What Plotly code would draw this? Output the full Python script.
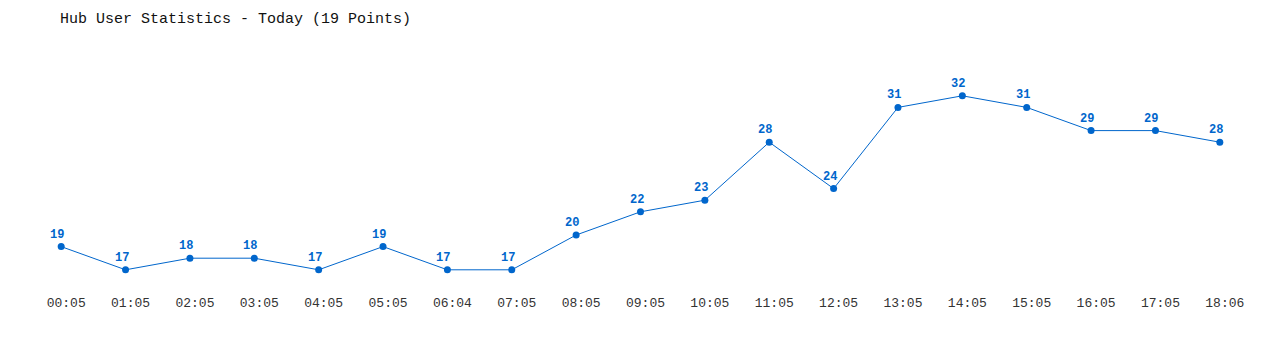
import plotly.graph_objects as go

times = ["00:05", "01:05", "02:05", "03:05", "04:05", "05:05", "06:04", "07:05", "08:05",
         "09:05", "10:05", "11:05", "12:05", "13:05", "14:05", "15:05", "16:05", "17:05", "18:06"]
users = [19, 17, 18, 18, 17, 19, 17, 17, 20, 22, 23, 28, 24, 31, 32, 31, 29, 29, 28]

MONO = "Liberation Mono, DejaVu Sans Mono, monospace"

fig = go.Figure()
fig.add_trace(go.Scatter(
    x=times, y=users, mode="lines+markers",
    line=dict(color="#0066cc", width=1),
    marker=dict(color="#0066cc", size=7),
    cliponaxis=False, hoverinfo="x+y",
))
for t, v in zip(times, users):
    fig.add_annotation(x=t, y=v, text=str(v), showarrow=False,
                       xanchor="center", yanchor="middle", xshift=-4, yshift=12,
                       font=dict(family=MONO, size=12, color="#0066cc", weight="bold"))
fig.update_layout(
    width=1280, height=350,
    margin=dict(l=29, r=28, t=61, b=57),
    paper_bgcolor="white", plot_bgcolor="white",
    showlegend=False,
    title=dict(text="Hub User Statistics - Today (19 Points)", x=60/1280, xanchor="left",
               y=1-18/350, yanchor="middle",
               font=dict(family=MONO, size=15, color="#111")),
    xaxis=dict(type="category", range=[-0.5, 18.5], showgrid=False, zeroline=False, showline=False,
               ticks="", ticklabelshift=5,
               tickfont=dict(family=MONO, size=13, color="#333")),
    yaxis=dict(range=[15, 35], visible=False),
)
fig.write_html("out.html")
